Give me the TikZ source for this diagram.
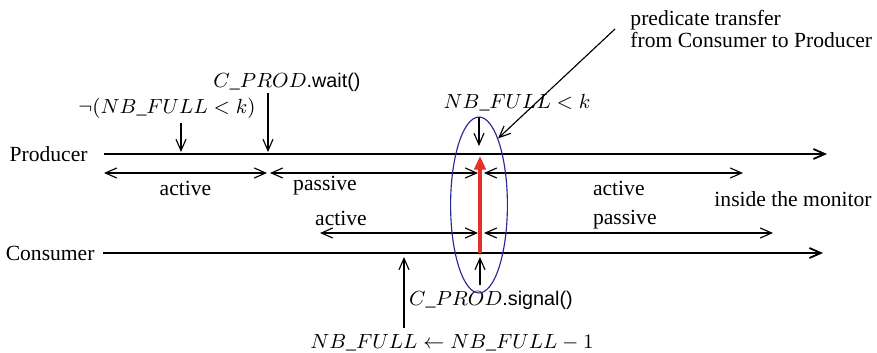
\documentclass[tikz,border=0pt]{standalone}
\usepackage[no-math]{fontspec}
\setmainfont{Liberation Serif}
\setsansfont{Liberation Sans}
\usepackage{tikz}
\usetikzlibrary{arrows.meta,shapes.geometric,positioning}
\definecolor{transred}{RGB}{228,48,38}
\definecolor{ringblue}{RGB}{40,40,150}

\begin{document}
\begin{tikzpicture}[x=0.44pt,y=-0.44pt,font=\fontsize{9.5}{9.7}\selectfont,
  >={Straight Barb[length=5pt,width=4.4pt]},
  timeline/.style={->,line width=0.8pt},
  span/.style={<->,line width=0.5pt},
  hint/.style={->,line width=0.5pt},
  formula/.style={font=\fontsize{8.7}{10}\selectfont}]
\useasboundingbox (0,0) rectangle (877,353);
% time lines
\coordinate (p0) at (104,154); \coordinate (p1) at (827,154);
\coordinate (c0) at (103,253); \coordinate (c1) at (823,253);
\draw[timeline] (p0) node[left=3.5pt] (prod) {Producer} -- (p1);
\draw[timeline] (c0) node[left] (cons) {Consumer} -- (c1);
% producer states
\coordinate (pa) at (104,173); \coordinate (pb) at (267,173);
\coordinate (pc) at (270,173); \coordinate (pd) at (478,173);
\coordinate (pe) at (484,173); \coordinate (pf) at (743,173);
\draw[span] (pa) -- node[below] (pact) {active} (pb);
\draw[span] (pc) -- (pd);
\draw[span] (pe) -- (pf);
\node (ppas) at (325,186) {passive};
\node[anchor=west] (pact2) at (585,188) {active};
\node (inside) at (793,199) {inside the monitor};
% consumer states
\coordinate (ca) at (320,233); \coordinate (cb) at (478,233);
\coordinate (cc) at (484,233); \coordinate (cd) at (773,233);
\draw[span] (ca) -- (cb);
\draw[span] (cc) -- (cd);
\node (cact) at (341,218) {active};
\node[anchor=west] (cpas) at (585,220) {passive};
% events on the producer
\node[formula] (notfull) at (167,108) {$\neg(NB\_FULL<k)$};
\coordinate (e1) at (181,123); \coordinate (e1b) at (181,152);
\draw[hint] (e1) -- (e1b);
\node[formula] (wait) at (287,82) {$C\_PROD$\textsf{.wait()}};
\coordinate (e2) at (268,93); \coordinate (e2b) at (268,152);
\draw[hint] (e2) -- (e2b);
\node[formula] (full) at (517,103) {$NB\_FULL<k$};
\coordinate (e3) at (479,117); \coordinate (e3b) at (479,146);
\draw[hint] (e3) -- (e3b);
% events on the consumer
\node[formula] (signal) at (491,300) {$C\_PROD$\textsf{.signal()}};
\coordinate (e4) at (480,285); \coordinate (e4b) at (480,257);
\draw[hint] (e4) -- (e4b);
\node[formula] (dec) at (452,343) {$NB\_FULL\leftarrow NB\_FULL-1$};
\coordinate (e5) at (404,328); \coordinate (e5b) at (404,257);
\draw[hint] (e5) -- (e5b);
% transfer
\coordinate (r0) at (480,253); \coordinate (r1) at (480,156);
\draw[-{Triangle[length=6pt,width=5pt]},transred,line width=1.8pt] (r0) -- (r1);
\node[draw=ringblue,line width=0.5pt,ellipse,inner sep=0pt,minimum width=25pt,minimum height=77.4pt] (ring) at (479,205) {};
\node[anchor=west,inner xsep=6.6pt,align=left] (note) at (615,29) {predicate transfer\\from Consumer to Producer};
\draw[hint] (note.west) -- (ring.74);
\end{tikzpicture}
\end{document}
